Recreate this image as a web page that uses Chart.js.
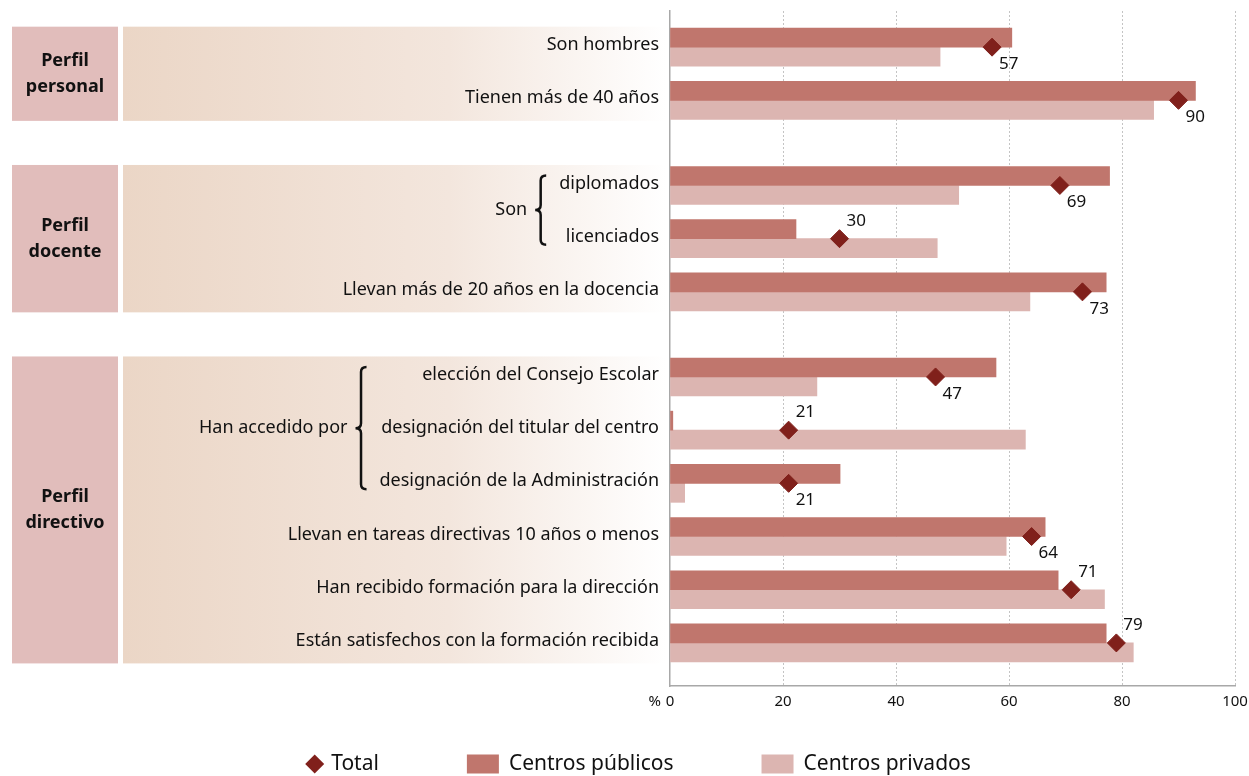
<!DOCTYPE html>
<html lang="es">
<head>
<meta charset="utf-8">
<title>Perfil personal, docente y directivo</title>
<script src="https://cdn.jsdelivr.net/npm/chart.js@4/dist/chart.umd.min.js"></script>
<style>
  html, body { margin: 0; padding: 0; background: #fff; }
  canvas { display: block; }
</style>
</head>
<body>
<canvas id="chart" width="1249" height="776"></canvas>
<script>
// Datos del gráfico (%)
const groupLabels = [['Perfil', 'personal'], ['Perfil', 'docente'], ['Perfil', 'directivo']];
const categories = [
  'Son hombres',
  'Tienen más de 40 años',
  'diplomados',
  'licenciados',
  'Llevan más de 20 años en la docencia',
  'elección del Consejo Escolar',
  'designación del titular del centro',
  'designación de la Administración',
  'Llevan en tareas directivas 10 años o menos',
  'Han recibido formación para la dirección',
  'Están satisfechos con la formación recibida'
];
const categoryGroup = [0, 0, 1, 1, 1, 2, 2, 2, 2, 2, 2];
const publicValues  = [60.5, 93.0, 77.8, 22.3, 77.2, 57.7, 0.5, 30.1, 66.4, 68.7, 77.2];
const privateValues = [47.8, 85.6, 51.1, 47.3, 63.7, 26.0, 62.9, 2.6, 59.5, 76.9, 82.0];
const totalValues   = [57, 90, 69, 30, 73, 47, 21, 21, 64, 71, 79];
const xTicks = [0, 20, 40, 60, 80, 100];
// etiquetas con llave: texto y filas que abarca
const bracketLabels = ['Son', 'Han accedido por'];
const bracketRows = [[2, 3], [5, 7]];

const FONT = '"Noto Sans", "Open Sans", sans-serif';
const GROUP_GAP = 0.6;

// posición de cada fila en el eje y (hueco extra entre bloques)
const rowPos = categories.map((c, i) => i + categoryGroup[i] * GROUP_GAP);

function drawBrace(ctx, xl, xr, top, bottom) {
  const xm = (xl + xr) / 2;
  const mid = (top + bottom) / 2;
  const r = 5;
  ctx.beginPath();
  ctx.moveTo(xr, top);
  ctx.quadraticCurveTo(xm, top, xm, top + r);
  ctx.lineTo(xm, mid - r);
  ctx.quadraticCurveTo(xm, mid, xl, mid);
  ctx.quadraticCurveTo(xm, mid, xm, mid + r);
  ctx.lineTo(xm, bottom - r);
  ctx.quadraticCurveTo(xm, bottom, xr, bottom);
  ctx.stroke();
}

// panel izquierdo: bloques, etiquetas de fila y llaves
const leftPanel = {
  id: 'leftPanel',
  beforeDraw(chart) {
    const ctx = chart.ctx;
    const y = chart.scales.y;
    const left = chart.chartArea.left;
    const labelRight = left - 11;
    ctx.save();
    groupLabels.forEach((lines, g) => {
      const rows = rowPos.filter((p, i) => categoryGroup[i] === g);
      const top = y.getPixelForValue(rows[0]) - 20.5;
      const bottom = y.getPixelForValue(rows[rows.length - 1]) + 20.5;
      ctx.fillStyle = '#e1bdbb';
      ctx.fillRect(12, top, 106, bottom - top);
      const grad = ctx.createLinearGradient(123, 0, left - 4, 0);
      grad.addColorStop(0, '#ebd6c6');
      grad.addColorStop(0.6, '#f3e6dd');
      grad.addColorStop(1, '#ffffff');
      ctx.fillStyle = grad;
      ctx.fillRect(123, top, left - 4 - 123, bottom - top);

      ctx.fillStyle = '#111';
      ctx.font = 'bold 18px ' + FONT;
      ctx.textAlign = 'center';
      ctx.textBaseline = 'middle';
      const mid = (top + bottom) / 2;
      lines.forEach((t, k) => ctx.fillText(t, 65, mid + (k - (lines.length - 1) / 2) * 26));
    });

    ctx.font = '18px ' + FONT;
    ctx.fillStyle = '#111';
    ctx.textAlign = 'right';
    ctx.textBaseline = 'middle';
    categories.forEach((c, i) => {
      ctx.fillText(c, labelRight, y.getPixelForValue(rowPos[i]) - 2);
    });

    bracketLabels.forEach((t, b) => {
      const [r0, r1] = bracketRows[b];
      let minLeft = Infinity;
      for (let i = r0; i <= r1; i++) {
        minLeft = Math.min(minLeft, labelRight - ctx.measureText(categories[i]).width);
      }
      const xr = minLeft - 13;
      const xl = xr - 11;
      const top = y.getPixelForValue(rowPos[r0]) - 10;
      const bottom = y.getPixelForValue(rowPos[r1]) + 6;
      ctx.strokeStyle = '#111';
      ctx.lineWidth = 2.5;
      drawBrace(ctx, xl, xr, top, bottom);
      ctx.fillText(t, xl - 8, (top + bottom) / 2);
    });

    ctx.restore();
  },
  afterDraw(chart) {
    // símbolo % delante del 0
    const ctx = chart.ctx;
    const x = chart.scales.x;
    ctx.save();
    ctx.font = '15px ' + FONT;
    ctx.fillStyle = '#111';
    ctx.textAlign = 'right';
    ctx.textBaseline = 'middle';
    ctx.fillText('%', x.getPixelForValue(0) - 9, chart.chartArea.bottom + 16);
    ctx.restore();
  }
};

// etiquetas de los rombos del total
const totalLabels = {
  id: 'totalLabels',
  afterDatasetsDraw(chart) {
    const ctx = chart.ctx;
    const meta = chart.getDatasetMeta(0);
    ctx.save();
    ctx.font = '17px ' + FONT;
    ctx.fillStyle = '#111';
    ctx.textAlign = 'left';
    ctx.textBaseline = 'middle';
    meta.data.forEach((pt, i) => {
      const above = privateValues[i] > totalValues[i];
      ctx.fillText(String(totalValues[i]), pt.x + 7, pt.y + (above ? -18 : 17));
    });
    ctx.restore();
  }
};

// leyenda inferior
const bottomLegend = {
  id: 'bottomLegend',
  afterDraw(chart) {
    const ctx = chart.ctx;
    ctx.save();
    ctx.font = '21px ' + FONT;
    ctx.textBaseline = 'middle';
    ctx.textAlign = 'left';
    const items = chart.data.datasets.map(d => ({
      text: d.label, color: d.backgroundColor, diamond: d.pointStyle === 'rectRot'
    }));
    const spacing = 88;
    const markW = it => (it.diamond ? 19 : 32);
    const gap = it => (it.diamond ? 7 : 10);
    const widths = items.map(it => markW(it) + gap(it) + ctx.measureText(it.text).width);
    const total = widths.reduce((a, b) => a + b, 0) + spacing * (items.length - 1);
    let x = 638 - total / 2;
    const cy = 764;
    items.forEach((it, k) => {
      ctx.fillStyle = it.color;
      if (it.diamond) {
        const r = 9.5, cx = x + r;
        ctx.beginPath();
        ctx.moveTo(cx - r, cy);
        ctx.lineTo(cx, cy - r);
        ctx.lineTo(cx + r, cy);
        ctx.lineTo(cx, cy + r);
        ctx.closePath();
        ctx.fill();
      } else {
        ctx.fillRect(x, cy - 9.5, 32, 19);
      }
      ctx.fillStyle = '#111';
      ctx.fillText(it.text, x + markW(it) + gap(it), cy);
      x += widths[k] + spacing;
    });
    ctx.restore();
  }
};

new Chart(document.getElementById('chart'), {
  type: 'bar',
  data: {
    datasets: [
      {
        type: 'scatter',
        label: 'Total',
        data: totalValues.map((v, i) => ({ x: v, y: rowPos[i] })),
        pointStyle: 'rectRot',
        pointRadius: 9,
        pointHoverRadius: 9,
        backgroundColor: '#80201b',
        borderColor: '#80201b',
        borderWidth: 1
      },
      {
        label: 'Centros públicos',
        data: publicValues.map((v, i) => ({ x: v, y: rowPos[i] })),
        backgroundColor: '#c0766d',
        barThickness: 19
      },
      {
        label: 'Centros privados',
        data: privateValues.map((v, i) => ({ x: v, y: rowPos[i] })),
        backgroundColor: '#dcb5b1',
        barThickness: 19
      }
    ]
  },
  options: {
    indexAxis: 'y',
    responsive: false,
    animation: false,
    devicePixelRatio: 1,
    layout: { padding: { left: 670, right: 14, top: 11, bottom: 58 } },
    scales: {
      x: {
        type: 'linear',
        min: 0,
        max: 100,
        afterBuildTicks: s => { s.ticks = xTicks.map(v => ({ value: v })); },
        afterFit: s => { s.paddingRight = 0; },
        grid: {
          color: c => (c.tick && c.tick.value === 0 ? 'rgba(0,0,0,0)' : '#c4c4c4'),
          lineWidth: 1,
          drawTicks: false
        },
        border: { display: true, color: '#a8a8a8', width: 1.5, dash: [2, 2] },
        ticks: { color: '#111', font: { family: FONT, size: 15 }, padding: 7 }
      },
      y: {
        type: 'linear',
        reverse: true,
        offset: false,
        min: -0.68,
        max: 12.01,
        ticks: { display: false },
        grid: { display: false, drawTicks: false, offset: false },
        border: { display: true, color: '#a8a8a8', width: 1.5 }
      }
    },
    plugins: {
      legend: { display: false },
      tooltip: { enabled: false }
    }
  },
  plugins: [leftPanel, totalLabels, bottomLegend]
});
</script>
</body>
</html>
